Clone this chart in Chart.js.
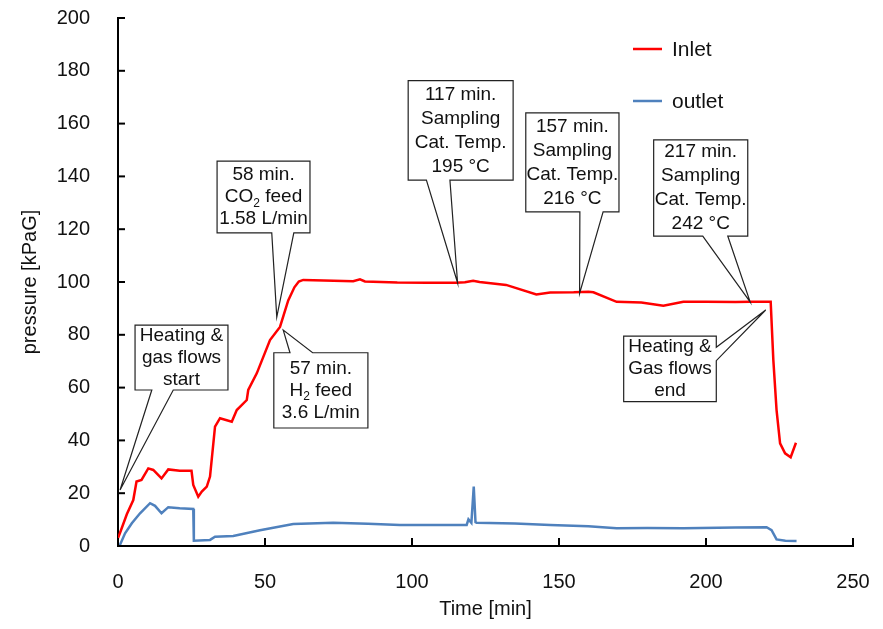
<!DOCTYPE html>
<html>
<head>
    <title>Pressure vs Time</title>
    <script src="https://cdn.jsdelivr.net/npm/chart.js"></script>
    <style>
        body { margin: 0; background: white; }
        #wrap { width: 883px; height: 629px; }
    </style>
</head>
<body>
    <div id="wrap"><canvas id="pChart" width="883" height="629"></canvas></div>

    <script>
        // values
        const inletTime = [0, 0.7, 3, 5.2, 6.3, 8, 10.3, 12, 14.8, 17.1, 21, 25, 25.6, 27.3, 28.5, 30.2, 31.3, 33, 34.7, 38.7, 40.4, 43.8, 44.3, 47.2, 51.7, 55.1, 57.9, 60, 61.5, 63, 70, 80, 82.3, 84, 95, 105, 115, 118, 120.8, 123, 132, 142.3, 147, 155, 160, 161.7, 169.6, 178, 185.5, 192.3, 200, 210, 215, 222, 222.9, 224, 225.2, 226.9, 228.8, 230.6];
        const inletPressure = [3, 5, 12, 17.4, 24.4, 25, 29.4, 28.8, 25.6, 29, 28.5, 28.5, 23.1, 18.7, 20.6, 22.5, 26.3, 45.2, 48.4, 47.1, 51.5, 55.3, 59.1, 65.4, 78, 83, 93, 98, 100.2, 100.8, 100.6, 100.3, 101, 100.2, 99.8, 99.7, 99.7, 99.9, 100.5, 100, 98.9, 95.3, 96, 96.1, 96.3, 96.1, 92.5, 92.2, 91, 92.5, 92.5, 92.4, 92.5, 92.5, 70.5, 51.5, 38.9, 35.1, 33.6, 39.1];

        const outletTime = [0, 0.7, 2.4, 4.7, 7.5, 10.9, 12.6, 14.8, 17.1, 21, 25.6, 25.8, 31.3, 33, 39.2, 48.3, 59.6, 73.2, 85, 95.9, 110, 118.6, 119.2, 120.2, 121, 121.6, 122, 135, 147, 160, 169.6, 180, 192.3, 210, 220.6, 222.3, 224, 227, 230.8];
        const outletPressure = [0, 0.5, 4.8, 8.6, 12.4, 16.2, 15.2, 12.4, 14.7, 14.3, 14, 2, 2.3, 3.5, 3.8, 6, 8.3, 8.8, 8.4, 8, 8, 8, 10.1, 8.8, 22.5, 9, 8.8, 8.5, 8, 7.5, 6.7, 6.8, 6.7, 7, 7.1, 6, 2.5, 2, 1.9];

        const seriesNames = ["Inlet", "outlet"];
        const seriesColors = ["#ff0000", "#4f81bd"];

        const xTicks = [0, 50, 100, 150, 200, 250];
        const yTicks = [0, 20, 40, 60, 80, 100, 120, 140, 160, 180, 200];

        // callout boxes, in data units (x = min, y = kPaG)
        const notes = [
            { lines: ["Heating &", "gas flows", "start"], box: [5.8, 83.7, 37.4, 59.1], side: "bottom", base: [11.5, 18.8], tip: [0.7, 21.2] },
            { lines: ["58 min.", "CO{2} feed", "1.58 L/min"], box: [33.7, 145.8, 65.3, 118.6], side: "bottom", base: [52.3, 59.8], tip: [54, 86.7] },
            { lines: ["57 min.", "H{2} feed", "3.6 L/min"], box: [53, 73.2, 85, 44.7], side: "top", base: [58.5, 66.2], tip: [56.2, 81.8] },
            { lines: ["117 min.", "Sampling", "Cat. Temp.", "195 °C"], box: [98.7, 176.3, 134.4, 138.6], side: "bottom", base: [104.9, 112.9], tip: [115.5, 99.7] },
            { lines: ["157 min.", "Sampling", "Cat. Temp.", "216 °C"], box: [138.7, 164.1, 170.4, 126.6], side: "bottom", base: [157.1, 165], tip: [157, 95.7] },
            { lines: ["217 min.", "Sampling", "Cat. Temp.", "242 °C"], box: [182.2, 153.8, 214.2, 117.4], side: "bottom", base: [198.9, 207.4], tip: [215, 92.5] },
            { lines: ["Heating &", "Gas flows", "end"], box: [172, 79.5, 203.5, 54.7], side: "right", base: [75.3, 70.2], tip: [220.3, 89.4] }
        ];

        const pts = (xs, ys) => xs.map((x, i) => ({ x: x, y: ys[i] }));
        const tickFont = { family: "'Liberation Sans Narrow', 'Liberation Sans', sans-serif", size: 20 };

        // draws a line with subscripts written as {2}
        function drawRich(ctx, text, cx, cy, size) {
            const parts = text.split(/(\{[^}]*\})/).filter(p => p.length);
            const big = size + "px 'Liberation Sans', Arial, sans-serif";
            const small = Math.round(size * 0.65) + "px 'Liberation Sans', Arial, sans-serif";
            let total = 0;
            parts.forEach(p => {
                ctx.font = p[0] === "{" ? small : big;
                total += ctx.measureText(p.replace(/[{}]/g, "")).width;
            });
            let x = cx - total / 2;
            ctx.textAlign = "left";
            ctx.textBaseline = "middle";
            parts.forEach(p => {
                const sub = p[0] === "{";
                const t = p.replace(/[{}]/g, "");
                ctx.font = sub ? small : big;
                ctx.fillText(t, x, sub ? cy + size * 0.35 : cy);
                x += ctx.measureText(t).width;
            });
        }

        const extras = {
            id: "extras",
            afterDatasetsDraw(chart) {
                const ctx = chart.ctx;
                const xs = chart.scales.x, ys = chart.scales.y;
                const area = chart.chartArea;
                ctx.save();

                // inward ticks
                ctx.strokeStyle = "#000";
                ctx.lineWidth = 2;
                xTicks.forEach(v => {
                    const px = xs.getPixelForValue(v);
                    ctx.beginPath();
                    ctx.moveTo(px, area.bottom);
                    ctx.lineTo(px, area.bottom - 8);
                    ctx.stroke();
                });
                yTicks.forEach(v => {
                    const py = ys.getPixelForValue(v);
                    ctx.beginPath();
                    ctx.moveTo(area.left, py);
                    ctx.lineTo(area.left + 7, py);
                    ctx.stroke();
                });

                // callouts
                notes.forEach(n => {
                    const l = xs.getPixelForValue(n.box[0]), t = ys.getPixelForValue(n.box[1]);
                    const r = xs.getPixelForValue(n.box[2]), b = ys.getPixelForValue(n.box[3]);
                    const tx = xs.getPixelForValue(n.tip[0]), ty = ys.getPixelForValue(n.tip[1]);
                    ctx.beginPath();
                    ctx.moveTo(l, t);
                    if (n.side === "top") {
                        ctx.lineTo(xs.getPixelForValue(n.base[0]), t);
                        ctx.lineTo(tx, ty);
                        ctx.lineTo(xs.getPixelForValue(n.base[1]), t);
                    }
                    ctx.lineTo(r, t);
                    if (n.side === "right") {
                        ctx.lineTo(r, ys.getPixelForValue(n.base[0]));
                        ctx.lineTo(tx, ty);
                        ctx.lineTo(r, ys.getPixelForValue(n.base[1]));
                    }
                    ctx.lineTo(r, b);
                    if (n.side === "bottom") {
                        ctx.lineTo(xs.getPixelForValue(n.base[1]), b);
                        ctx.lineTo(tx, ty);
                        ctx.lineTo(xs.getPixelForValue(n.base[0]), b);
                    }
                    ctx.lineTo(l, b);
                    ctx.closePath();
                    ctx.fillStyle = "#fff";
                    ctx.fill();
                    ctx.strokeStyle = "#222";
                    ctx.lineWidth = 1.2;
                    ctx.stroke();

                    ctx.fillStyle = "#111";
                    const lh = n.lines.length === 4 ? 24 : 22;
                    const cx = (l + r) / 2;
                    const cy0 = (t + b) / 2 - lh * (n.lines.length - 1) / 2;
                    n.lines.forEach((s, i) => drawRich(ctx, s, cx, cy0 + i * lh, 19));
                });

                // legend
                chart.data.datasets.forEach((ds, i) => {
                    const ly = 49 + i * 52;
                    ctx.strokeStyle = ds.borderColor;
                    ctx.lineWidth = 2.5;
                    ctx.beginPath();
                    ctx.moveTo(633, ly);
                    ctx.lineTo(662, ly);
                    ctx.stroke();
                    ctx.fillStyle = "#111";
                    ctx.font = "21px 'Liberation Sans', Arial, sans-serif";
                    ctx.textAlign = "left";
                    ctx.textBaseline = "middle";
                    ctx.fillText(ds.label, 672, ly + 1);
                });
                ctx.restore();
            }
        };

        new Chart(document.getElementById("pChart"), {
            type: "line",
            data: {
                datasets: [
                    { label: seriesNames[0], data: pts(inletTime, inletPressure), borderColor: seriesColors[0], borderWidth: 2.5, pointRadius: 0, tension: 0 },
                    { label: seriesNames[1], data: pts(outletTime, outletPressure), borderColor: seriesColors[1], borderWidth: 2.5, pointRadius: 0, tension: 0 }
                ]
            },
            options: {
                responsive: false,
                animation: false,
                layout: { padding: { top: 18, right: 30, left: 18, bottom: 0 } },
                plugins: { legend: { display: false }, tooltip: { enabled: false } },
                scales: {
                    x: {
                        type: "linear", min: 0, max: 250,
                        afterBuildTicks: s => { s.ticks = xTicks.map(v => ({ value: v })); },
                        afterFit: s => { s.height = 83; s.paddingLeft = 0; s.paddingRight = 0; },
                        grid: { display: false },
                        border: { display: true, color: "#000", width: 2 },
                        ticks: { color: "#111", padding: 16, maxRotation: 0, font: tickFont },
                        title: { display: true, text: "Time [min]", color: "#111", padding: { top: 2, bottom: 8 }, font: tickFont }
                    },
                    y: {
                        min: 0, max: 200,
                        afterBuildTicks: s => { s.ticks = yTicks.map(v => ({ value: v })); },
                        afterFit: s => { s.width = 100; s.paddingTop = 0; s.paddingBottom = 0; },
                        grid: { display: false },
                        border: { display: true, color: "#000", width: 2 },
                        ticks: { color: "#111", padding: 20, font: tickFont },
                        title: { display: true, text: "pressure [kPaG]", color: "#111", padding: { top: 0, bottom: 4 }, font: { family: "'Liberation Sans', Arial, sans-serif", size: 20 } }
                    }
                }
            },
            plugins: [extras]
        });
    </script>
</body>
</html>
